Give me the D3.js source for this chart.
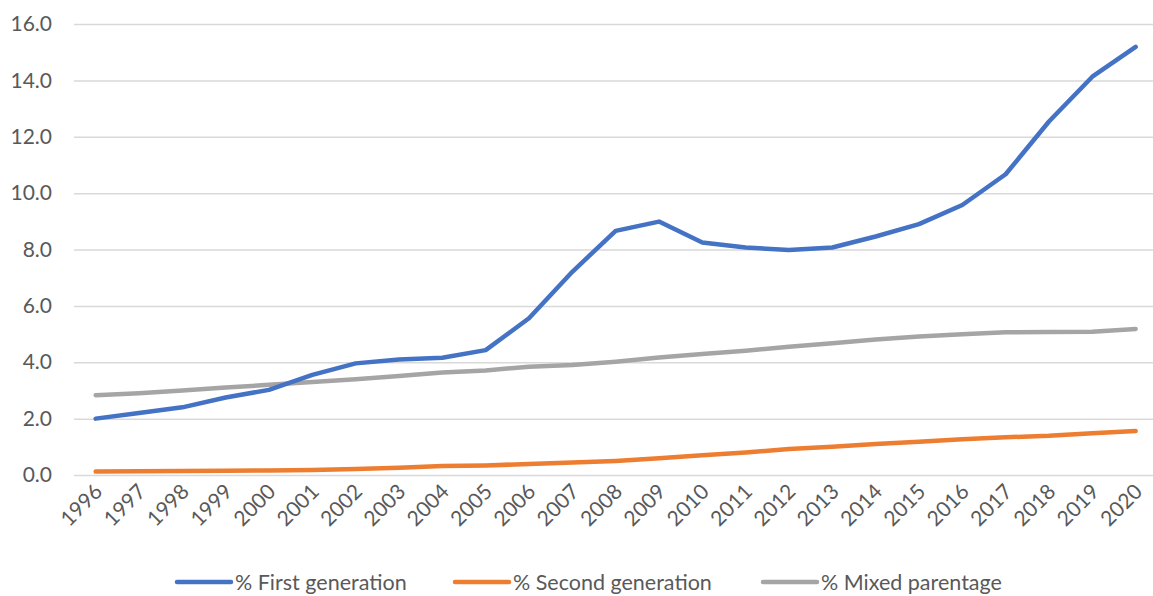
<!DOCTYPE html>
<html>
<head>
<meta charset="utf-8">
<script src="https://cdn.jsdelivr.net/npm/d3@7"></script>
<style>
  html, body { margin: 0; padding: 0; background: #fff; }
  svg { display: block; font-family: Lato, "Open Sans", sans-serif; }
</style>
</head>
<body>
<svg id="chart" width="1153" height="596"></svg>
<script>
// Years on the category axis
const years = ["1996","1997","1998","1999","2000","2001","2002","2003","2004","2005","2006","2007","2008","2009","2010","2011","2012","2013","2014","2015","2016","2017","2018","2019","2020"];

// Shares of births (%) by parental background
const firstGeneration  = [2.0, 2.2, 2.4, 2.75, 3.02, 3.55, 3.96, 4.1, 4.16, 4.43, 5.56, 7.21, 8.66, 8.99, 8.25, 8.07, 7.98, 8.07, 8.46, 8.9, 9.58, 10.67, 12.54, 14.13, 15.19];
const secondGeneration = [0.12, 0.13, 0.14, 0.15, 0.16, 0.18, 0.21, 0.26, 0.32, 0.34, 0.39, 0.44, 0.5, 0.59, 0.7, 0.8, 0.92, 1.0, 1.1, 1.18, 1.27, 1.34, 1.39, 1.48, 1.56];
const mixedParentage   = [2.83, 2.9, 3.0, 3.1, 3.2, 3.3, 3.4, 3.51, 3.64, 3.71, 3.84, 3.9, 4.02, 4.17, 4.29, 4.41, 4.55, 4.67, 4.81, 4.91, 4.99, 5.06, 5.07, 5.08, 5.18];

const seriesNames = ["% First generation", "% Second generation", "% Mixed parentage"];
const yTicks = [0, 2, 4, 6, 8, 10, 12, 14, 16];

const series = [
  { name: seriesNames[0], values: firstGeneration,  color: "#4472C4" },
  { name: seriesNames[1], values: secondGeneration, color: "#ED7D31" },
  { name: seriesNames[2], values: mixedParentage,   color: "#A5A5A5" }
];

const svg = d3.select("#chart");
const textColor = "#595959";

const x = d3.scaleBand().domain(years).range([74, 1157.3]);
const y = d3.scaleLinear().domain([0, 16]).range([475, 24]);
const xc = d => x(d) + x.bandwidth() / 2;

// Horizontal gridlines
const yAxis = d3.axisLeft(y).tickValues(yTicks).tickFormat(d3.format(".1f"))
  .tickSize(-(1157.3 - 74)).tickPadding(22);
const gy = svg.append("g").attr("transform", "translate(74,0)").call(yAxis);
gy.select(".domain").remove();
gy.selectAll(".tick line").attr("stroke", "#D9D9D9").attr("stroke-width", 1.5);
gy.selectAll(".tick text").attr("fill", textColor).attr("font-size", 21)
  .attr("font-family", "Lato, sans-serif");

// Category labels, rotated
const xAxis = d3.axisBottom(x).tickSize(0).tickPadding(0);
const gx = svg.append("g").attr("transform", "translate(0,475)").call(xAxis);
gx.select(".domain").remove();
gx.selectAll(".tick text")
  .attr("fill", textColor).attr("font-size", 21).attr("font-family", "Lato, sans-serif")
  .attr("text-anchor", "end").attr("dy", null).attr("y", null)
  .attr("transform", "translate(8,18) rotate(-45)");

// Series lines
const line = d3.line().x((d, i) => xc(years[i])).y(d => y(d));
svg.append("g").selectAll("path").data(series.slice().reverse()).join("path")
  .attr("d", d => line(d.values))
  .attr("fill", "none")
  .attr("stroke", d => d.color)
  .attr("stroke-width", 4.5)
  .attr("stroke-linecap", "round")
  .attr("stroke-linejoin", "round");

// Legend
const legendX = [177, 455, 763];
const lg = svg.append("g").selectAll("g").data(series).join("g")
  .attr("transform", (d, i) => `translate(${legendX[i]},582)`);
lg.append("line").attr("x1", 0).attr("x2", 54).attr("y1", 0).attr("y2", 0)
  .attr("stroke", d => d.color).attr("stroke-width", 4.5).attr("stroke-linecap", "round");
lg.append("text").attr("x", 58).attr("y", 0).attr("dy", "0.35em")
  .attr("fill", textColor).attr("font-size", 21.5)
  .text(d => d.name);
</script>
</body>
</html>
